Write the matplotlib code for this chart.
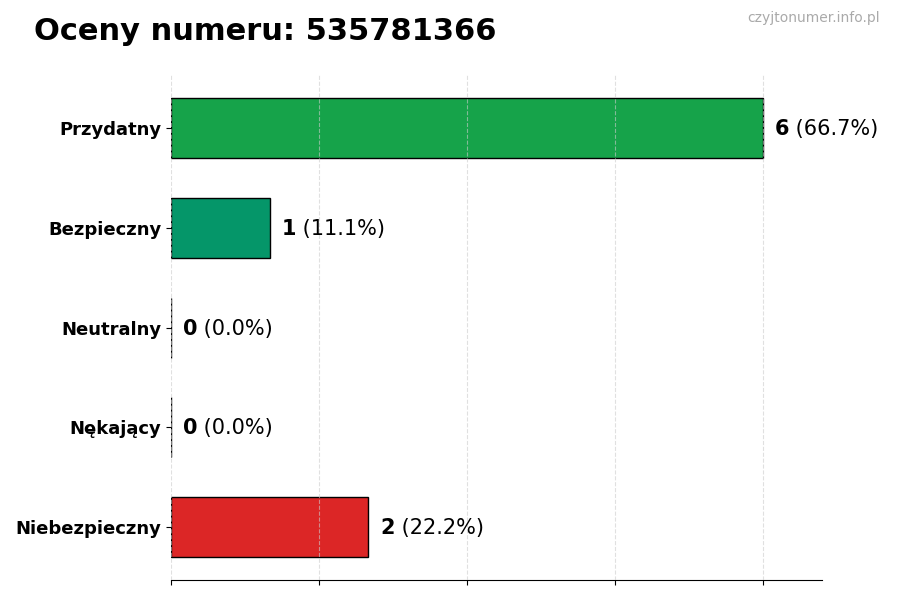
import matplotlib.pyplot as plt

categories = ['Przydatny', 'Bezpieczny', 'Neutralny', 'Nękający', 'Niebezpieczny']
counts = [6, 1, 0, 0, 2]
colors = ['#16a34a', '#059669', '#6b7280', '#ea580c', '#dc2626']
number = '535781366'

total = sum(counts)

fig = plt.figure(figsize=(9, 6), dpi=100)
ax = fig.add_axes([0.19, 0.033, 0.723, 0.842])

ypos = list(range(len(categories)))
ax.barh(ypos, counts, height=0.6, color=colors, edgecolor='black', linewidth=1, zorder=2)
ax.set_yticks(ypos)
ax.set_yticklabels(categories, fontsize=13, fontweight='bold')
ax.set_ylim(len(categories) - 0.47, -0.53)
ax.set_xlim(0, 6.6)
ax.set_xticks([0, 1.5, 3, 4.5, 6])
ax.set_xticklabels([])
ax.grid(axis='x', linestyle='--', color='#cccccc', alpha=0.6, zorder=3)
ax.set_axisbelow(False)

for s in ['top', 'right', 'left']:
    ax.spines[s].set_visible(False)

for y, c in zip(ypos, counts):
    pct = c / total * 100
    t = ax.text(c + 0.12, y + 0.01, str(c), fontsize=15, fontweight='bold', va='center', ha='left')
    ax.annotate(f' ({pct:.1f}%)', xy=(1, 0.5), xycoords=t, va='center', ha='left', fontsize=15)

fig.text(0.038, 0.947, f'Oceny numeru: {number}', fontsize=22, fontweight='bold', va='center')
fig.text(0.978, 0.97, 'czyjtonumer.info.pl', fontsize=10, color='#aaaaaa', ha='right', va='center')

fig.savefig('out.png', dpi=100)
